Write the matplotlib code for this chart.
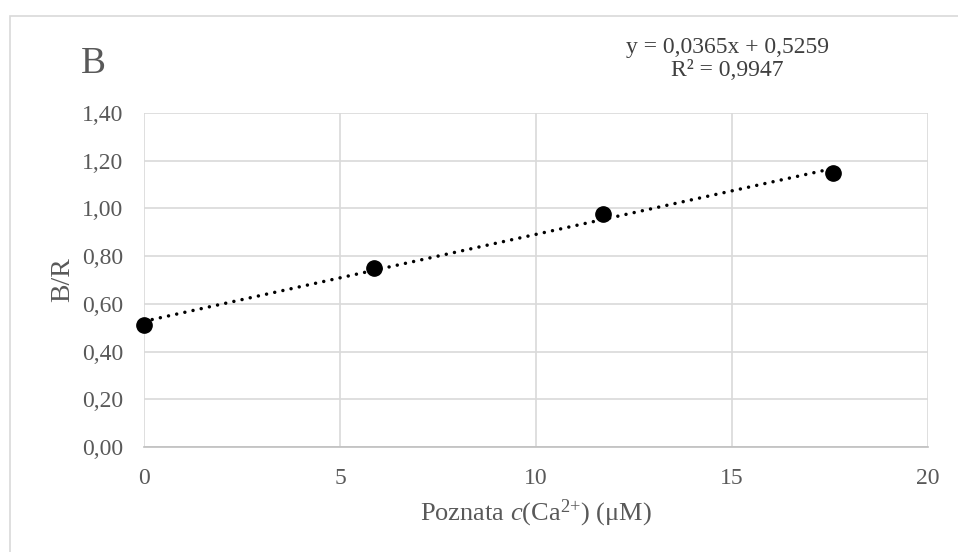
import numpy as np
import matplotlib
matplotlib.use('Agg')
from matplotlib import pyplot as plt
from matplotlib.patches import Rectangle

plt.rcParams['font.family'] = ['Liberation Serif', 'DejaVu Serif']
plt.rcParams['mathtext.fontset'] = 'custom'
plt.rcParams['mathtext.rm'] = 'Liberation Serif'
plt.rcParams['mathtext.it'] = 'Liberation Serif:italic'

# data
conc = [0.0, 5.86, 11.72, 17.58]
ratio = [0.512, 0.751, 0.977, 1.149]
xticks = [0, 5, 10, 15, 20]
yticks = [0.0, 0.2, 0.4, 0.6, 0.8, 1.0, 1.2, 1.4]
eq_text = 'y = 0,0365x + 0,5259\nR² = 0,9947'

grey = '#595959'
grid = '#d9d9d9'

fig = plt.figure(figsize=(9.58, 5.52), dpi=100)
ax = fig.add_axes([144/958, 1-447/552, (928-144)/958, (447-113)/552])

# chart area frame
fig.patches.append(Rectangle((10/958, -0.1), 1.2, 1.1-15.5/552,
                             transform=fig.transFigure, fill=False,
                             edgecolor=grid, lw=1.2))

# trendline
k, b = np.polyfit(conc, ratio, 1)
xs = np.array([min(conc), max(conc)])
ax.plot(xs, k*xs + b, color='black', lw=2.5, linestyle=(0, (0.01, 2.4)),
        dash_capstyle='round', zorder=3)
ax.plot(conc, ratio, 'o', color='black', ms=11, zorder=4, clip_on=False)

ax.set_xlim(0, 20)
ax.set_ylim(0, 1.4)
ax.set_xticks(xticks)
ax.set_yticks(yticks)
ax.set_xticklabels([str(t) for t in xticks])
ax.set_yticklabels([('%.2f' % t).replace('.', ',') for t in yticks])
ax.grid(True, color=grid, lw=1.2)
ax.set_axisbelow(True)
for s in ['top', 'right', 'left']:
    ax.spines[s].set_visible(False)
ax.spines['bottom'].set_color('#bfbfbf')
ax.spines['bottom'].set_linewidth(1.2)
ax.tick_params(length=0, labelsize=17, colors=grey)
ax.tick_params(axis='y', pad=15)
ax.tick_params(axis='x', pad=15)

ax.set_xlabel('Poznata $c$(Ca$^{2{+}}$) (μM)', fontsize=19, color=grey, labelpad=6)
ax.set_ylabel('B/R', fontsize=20, color=grey, labelpad=5)

fig.text(81/958, 1-73/552, 'B', fontsize=27, color=grey, ha='left', va='baseline')
fig.text(727/958, 1-59/552, eq_text, fontsize=17, color='#404040',
         ha='center', va='center', linespacing=1.1)

fig.savefig('out.png', dpi=100)
